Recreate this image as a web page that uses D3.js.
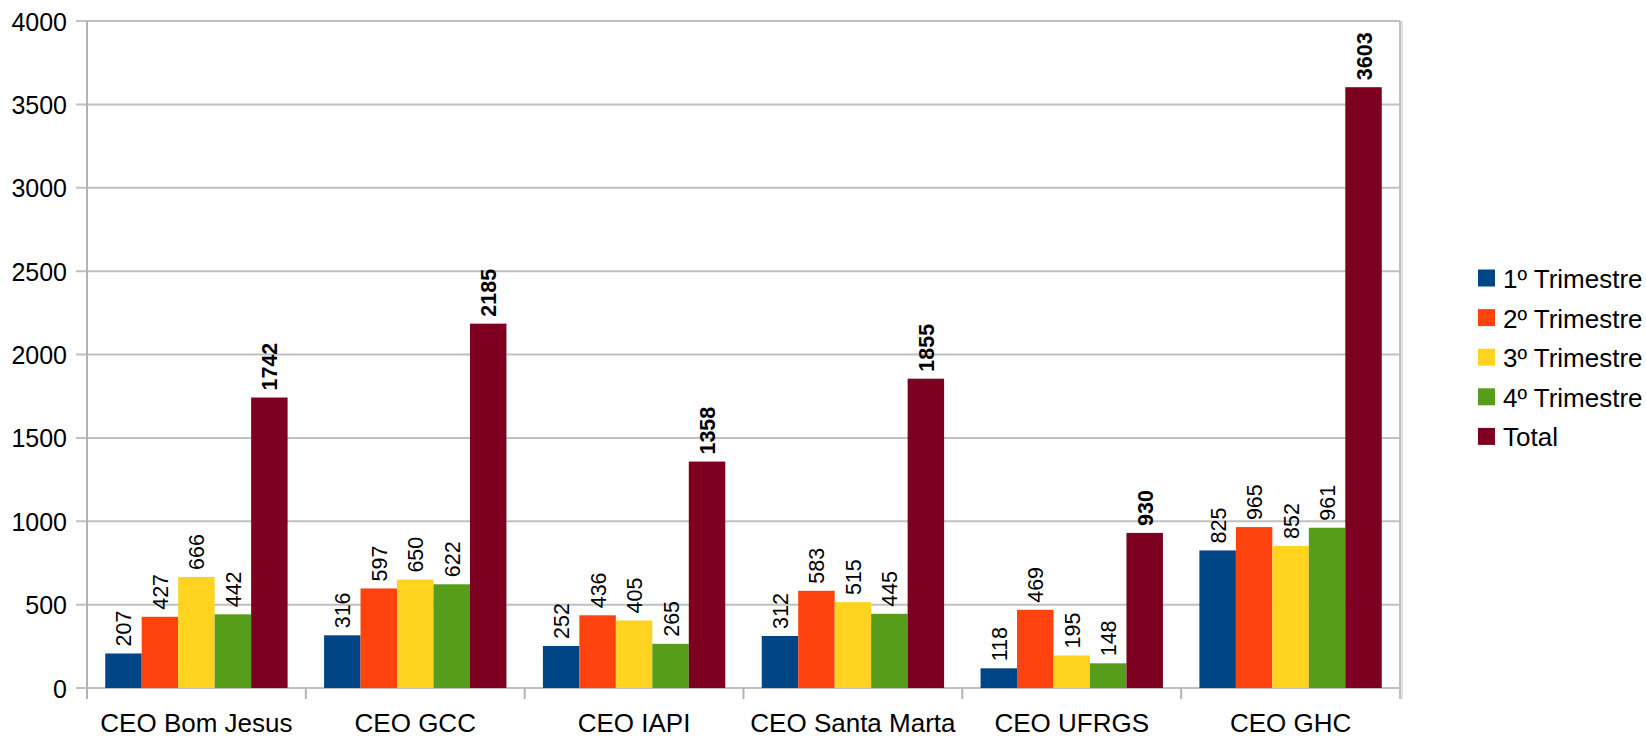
<!DOCTYPE html>
<html lang="pt">
<head>
<meta charset="utf-8">
<title>CEO por trimestre</title>
<script src="https://cdnjs.cloudflare.com/ajax/libs/d3/7.8.5/d3.min.js"></script>
<style>
  body { margin: 0; background: #fff; }
  svg { display: block; font-family: "Liberation Sans", Arial, sans-serif; }
</style>
</head>
<body>
<script>
// data
var categories = ["CEO Bom Jesus", "CEO GCC", "CEO IAPI", "CEO Santa Marta", "CEO UFRGS", "CEO GHC"];
var seriesNames = ["1º Trimestre", "2º Trimestre", "3º Trimestre", "4º Trimestre", "Total"];
var tri1 = [207, 316, 252, 312, 118, 825];
var tri2 = [427, 597, 436, 583, 469, 965];
var tri3 = [666, 650, 405, 515, 195, 852];
var tri4 = [442, 622, 265, 445, 148, 961];
var total = [1742, 2185, 1358, 1855, 930, 3603];
var yTicks = [0, 500, 1000, 1500, 2000, 2500, 3000, 3500, 4000];
var colors = ["#004586", "#ff420e", "#ffd320", "#579d1c", "#7e0021"];

var series = [tri1, tri2, tri3, tri4, total];

var w = 1646, h = 737;
var plotLeft = 87, plotRight = 1400, plotTop = 21, plotBottom = 688;

var svg = d3.select("body").append("svg")
    .attr("width", w)
    .attr("height", h);

var x0 = d3.scaleBand()
    .domain(categories)
    .range([plotLeft, plotRight]);

var x1 = d3.scaleBand()
    .domain(seriesNames)
    .range([0, x0.bandwidth()])
    .paddingOuter(0.5);

var y = d3.scaleLinear()
    .domain([0, 4000])
    .range([plotBottom, plotTop]);

// gridlines
svg.append("g")
    .selectAll("line")
    .data(yTicks)
    .enter()
    .append("line")
    .attr("x1", plotLeft - 11)
    .attr("x2", plotRight)
    .attr("y1", function(d){ return y(d); })
    .attr("y2", function(d){ return y(d); })
    .attr("stroke", "#c0c0c0")
    .attr("stroke-width", 2);

// y tick labels
svg.append("g")
    .selectAll("text")
    .data(yTicks)
    .enter()
    .append("text")
    .attr("x", 67)
    .attr("y", function(d){ return y(d) + 9.5; })
    .attr("text-anchor", "end")
    .attr("font-size", 25)
    .text(function(d){ return d; });

// bars
var groups = svg.append("g")
    .selectAll("g")
    .data(categories)
    .enter()
    .append("g")
    .attr("transform", function(d){ return "translate(" + x0(d) + ",0)"; });

var rows = function(d, i){
    return series.map(function(s, j){ return {name: seriesNames[j], value: s[i], j: j}; });
};

groups.selectAll("rect")
    .data(rows)
    .enter()
    .append("rect")
    .attr("x", function(d){ return x1(d.name); })
    .attr("y", function(d){ return y(d.value); })
    .attr("width", x1.bandwidth())
    .attr("height", function(d){ return plotBottom - y(d.value); })
    .attr("fill", function(d){ return colors[d.j]; });

// value labels, rotated
groups.selectAll("text")
    .data(rows)
    .enter()
    .append("text")
    .attr("transform", function(d){
        var cx = x1(d.name) + x1.bandwidth() / 2 + 8;
        return "translate(" + cx + "," + (y(d.value) - 7) + ") rotate(-90)";
    })
    .attr("font-size", 21.5)
    .attr("font-weight", function(d){ return d.j == 4 ? "bold" : "normal"; })
    .text(function(d){ return d.value; });

// axis lines and category ticks
svg.append("line")
    .attr("x1", plotLeft).attr("x2", plotLeft)
    .attr("y1", plotTop).attr("y2", plotBottom + 11)
    .attr("stroke", "#b3b3b3").attr("stroke-width", 2);

svg.append("line")
    .attr("x1", plotRight).attr("x2", plotRight)
    .attr("y1", plotTop).attr("y2", plotBottom + 11)
    .attr("stroke", "#c0c0c0").attr("stroke-width", 2);
svg.append("line")
    .attr("x1", plotRight + 2).attr("x2", plotRight + 2)
    .attr("y1", plotTop).attr("y2", plotBottom + 11)
    .attr("stroke", "#e3e3e3").attr("stroke-width", 2);

svg.append("g")
    .selectAll("line")
    .data(categories.slice(1))
    .enter()
    .append("line")
    .attr("x1", function(d){ return x0(d); })
    .attr("x2", function(d){ return x0(d); })
    .attr("y1", plotBottom)
    .attr("y2", plotBottom + 11)
    .attr("stroke", "#b3b3b3")
    .attr("stroke-width", 2);

// x labels
svg.append("g")
    .selectAll("text")
    .data(categories)
    .enter()
    .append("text")
    .attr("x", function(d){ return x0(d) + x0.bandwidth() / 2; })
    .attr("y", 732)
    .attr("text-anchor", "middle")
    .attr("font-size", 26)
    .text(function(d){ return d; });

// legend
var legend = svg.append("g")
    .selectAll("g")
    .data(seriesNames)
    .enter()
    .append("g")
    .attr("transform", function(d, i){ return "translate(1478," + (278 + i * 39.6) + ")"; });

legend.append("rect")
    .attr("x", 0)
    .attr("y", -8.5)
    .attr("width", 17)
    .attr("height", 17)
    .attr("fill", function(d, i){ return colors[i]; });

legend.append("text")
    .attr("x", 25)
    .attr("y", 10)
    .attr("font-size", 26)
    .text(function(d){ return d; });
</script>
</body>
</html>
